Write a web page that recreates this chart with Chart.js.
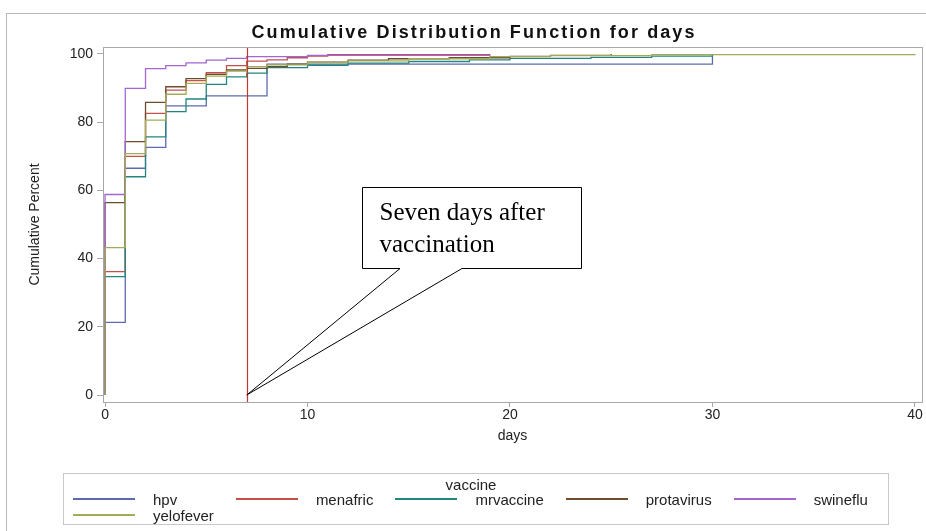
<!DOCTYPE html>
<html>
<head>
<meta charset="utf-8">
<script src="https://cdn.jsdelivr.net/npm/chart.js@4.4.1/dist/chart.umd.min.js"></script>
<style>
  body { margin: 0; background: #fff; }
  #wrap { position: relative; width: 926px; height: 531px; overflow: hidden; font-family: "Liberation Sans", Arial, sans-serif; color: #222; }
  #frame { position: absolute; left: 6px; top: 13px; width: 1000px; height: 600px; border-left: 1px solid #b8b8b8; border-top: 1px solid #b8b8b8; }
  #title { position: absolute; left: 474px; top: 22px; transform: translateX(-50%); white-space: nowrap; font-size: 18px; font-weight: bold; letter-spacing: 2.1px; color: #111; }
  canvas { position: absolute; left: 0; top: 0; }
  #legend { position: absolute; left: 63px; top: 473px; width: 824px; height: 50px; border: 1px solid #c8c8c8; font-size: 15px; }
  #legend .head { position: absolute; left: 0; width: 814px; top: 2px; text-align: center; }
  #legend .items { position: absolute; left: 9px; top: 17px; display: grid; grid-template-columns: repeat(5, auto); column-gap: 22px; row-gap: 0; }
  #legend .item { display: flex; align-items: center; height: 16px; white-space: nowrap; }
  #legend .swatch { display: inline-block; width: 62px; height: 1.5px; margin-right: 18px; }
</style>
</head>
<body>
<div id="wrap">
  <div id="frame"></div>
  <canvas id="cdf" width="926" height="531"></canvas>
  <div id="title">Cumulative Distribution Function for days</div>
  <div id="legend">
    <div class="head">vaccine</div>
    <div class="items" id="legend-items"></div>
  </div>
</div>
<script>
// cumulative percent steps per vaccine: [day, percent from that day on]
const hpv = [[0, 0], [0, 21.3], [1, 66.5], [2, 72.6], [3, 84.8], [5, 87.7], [8, 97.0], [30, 100]];
const menafric = [[0, 0], [0, 36.2], [1, 70.0], [2, 82.6], [3, 89.4], [4, 92.2], [5, 94.5], [6, 96.6], [7, 97.9], [8, 98.3], [9, 98.9], [10, 99.4], [11, 99.8], [19, 100]];
const mrvaccine = [[0, 0], [0, 34.7], [1, 64.0], [2, 75.7], [3, 83.1], [4, 86.8], [5, 91.1], [6, 93.3], [7, 94.4], [8, 96.0], [10, 96.7], [12, 97.3], [15, 97.8], [18, 98.3], [20, 98.7], [24, 99.0], [27, 99.4], [30, 100]];
const protavirus = [[0, 0], [0, 56.4], [1, 74.3], [2, 85.8], [3, 90.4], [4, 92.8], [5, 94.0], [6, 95.3], [7, 95.8], [8, 96.3], [9, 97.0], [10, 97.6], [12, 98.2], [14, 98.6], [17, 98.9], [20, 99.3], [22, 99.6], [25, 100]];
const swineflu = [[0, 0], [0, 58.8], [1, 89.9], [2, 95.7], [3, 96.6], [4, 97.4], [5, 98.2], [6, 98.7], [7, 99.2], [10, 99.6], [19, 100]];
const yelofever = [[0, 0], [0, 43.2], [1, 70.8], [2, 80.6], [3, 88.2], [4, 91.4], [5, 93.5], [6, 95.0], [7, 96.3], [8, 96.8], [10, 97.5], [12, 98.0], [15, 98.6], [19, 99.2], [22, 99.5], [27, 99.8], [40, 100]];

const seriesNames = ['hpv', 'menafric', 'mrvaccine', 'protavirus', 'swineflu', 'yelofever'];
const seriesData = [hpv, menafric, mrvaccine, protavirus, swineflu, yelofever];
const seriesColors = ['#5b6cae', '#c4504a', '#23857f', '#6e4c2e', '#a466d2', '#a3aa58'];

const xTicks = [0, 10, 20, 30, 40];
const yTicks = [0, 20, 40, 60, 80, 100];
const refDay = 7;
const calloutText = ['Seven days after', 'vaccination'];
// callout in data units: box [x1, x2, yBottom, yTop], pointer base x's, anchor
const calloutBox = [12.7, 23.5, 37.2, 61.0];
const pointerBase = [14.57, 17.63];
const pointerTip = [7, 0];

const FONT = '"Liberation Sans", Arial, sans-serif';

const framePlugin = {
  id: 'frame',
  afterDatasetsDraw(chart) {
    const { ctx, chartArea: a, scales } = chart;
    ctx.save();
    // reference line at day 7
    const rx = Math.round(scales.x.getPixelForValue(refDay)) + 0.5;
    ctx.strokeStyle = '#bf3a32';
    ctx.lineWidth = 1.2;
    ctx.beginPath();
    ctx.moveTo(rx, a.top);
    ctx.lineTo(rx, a.bottom);
    ctx.stroke();
    // plot frame
    ctx.strokeStyle = '#a8a8a8';
    ctx.lineWidth = 1;
    ctx.strokeRect(Math.round(a.left) + 0.5, Math.round(a.top) + 0.5, Math.round(a.right - a.left), Math.round(a.bottom - a.top));
    ctx.restore();
  },
};

const calloutPlugin = {
  id: 'callout',
  afterDraw(chart) {
    const { ctx, scales } = chart;
    const px = (v) => scales.x.getPixelForValue(v);
    const py = (v) => scales.y.getPixelForValue(v);
    const l = Math.round(px(calloutBox[0])) + 0.5;
    const r = Math.round(px(calloutBox[1])) + 0.5;
    const b = Math.round(py(calloutBox[2])) + 0.5;
    const t = Math.round(py(calloutBox[3])) + 0.5;
    ctx.save();
    ctx.beginPath();
    ctx.moveTo(l, t);
    ctx.lineTo(r, t);
    ctx.lineTo(r, b);
    ctx.lineTo(px(pointerBase[1]), b);
    ctx.lineTo(px(pointerTip[0]), py(pointerTip[1]));
    ctx.lineTo(px(pointerBase[0]), b);
    ctx.lineTo(l, b);
    ctx.closePath();
    ctx.fillStyle = '#fff';
    ctx.fill();
    ctx.strokeStyle = '#000';
    ctx.lineWidth = 1;
    ctx.stroke();
    ctx.fillStyle = '#000';
    ctx.font = '25px "Liberation Serif", "Times New Roman", serif';
    ctx.textBaseline = 'alphabetic';
    calloutText.forEach((line, i) => {
      ctx.fillText(line, l + 17, t + 32 + i * 32);
    });
    ctx.restore();
  },
};

new Chart(document.getElementById('cdf'), {
  type: 'line',
  data: {
    datasets: seriesNames.map((name, i) => ({
      label: name,
      data: seriesData[i].map(([x, y]) => ({ x, y })),
      borderColor: seriesColors[i],
      borderWidth: 1.3,
      stepped: true,
      pointRadius: 0,
      fill: false,
      order: seriesNames.length - i,
    })),
  },
  options: {
    responsive: false,
    animation: false,
    devicePixelRatio: 1,
    layout: { padding: { left: 6, top: 47, right: 4, bottom: 84 } },
    plugins: { legend: { display: false }, tooltip: { enabled: false } },
    scales: {
      x: {
        type: 'linear',
        min: -0.1,
        max: 40.35,
        afterBuildTicks: (s) => { s.ticks = xTicks.map((value) => ({ value })); },
        afterFit: (s) => { s.height = 45; s.paddingLeft = 0; s.paddingRight = 0; },
        grid: { drawOnChartArea: false, drawTicks: true, tickLength: 5, color: '#a8a8a8' },
        border: { color: '#a8a8a8' },
        ticks: { font: { size: 14, family: FONT }, color: '#222', padding: 0, maxRotation: 0 },
        title: { display: true, text: 'days', color: '#222', font: { size: 14, family: FONT }, padding: { top: 0, bottom: 2 } },
      },
      y: {
        type: 'linear',
        min: -2.05,
        max: 102.05,
        afterBuildTicks: (s) => { s.ticks = yTicks.map((value) => ({ value })); },
        afterFit: (s) => { s.width = 97; },
        grid: { drawOnChartArea: false, drawTicks: true, tickLength: 6, color: '#a8a8a8' },
        border: { color: '#a8a8a8' },
        ticks: { font: { size: 14, family: FONT }, color: '#222', padding: 4 },
        title: { display: true, text: 'Cumulative Percent', color: '#222', font: { size: 14, family: FONT }, padding: { top: 21, bottom: 0 } },
      },
    },
  },
  plugins: [framePlugin, calloutPlugin],
});

// legend
document.getElementById('legend-items').innerHTML = seriesNames
  .map((name, i) => `<div class="item"><span class="swatch" style="background:${seriesColors[i]}"></span>${name}</div>`)
  .join('');
</script>
</body>
</html>
